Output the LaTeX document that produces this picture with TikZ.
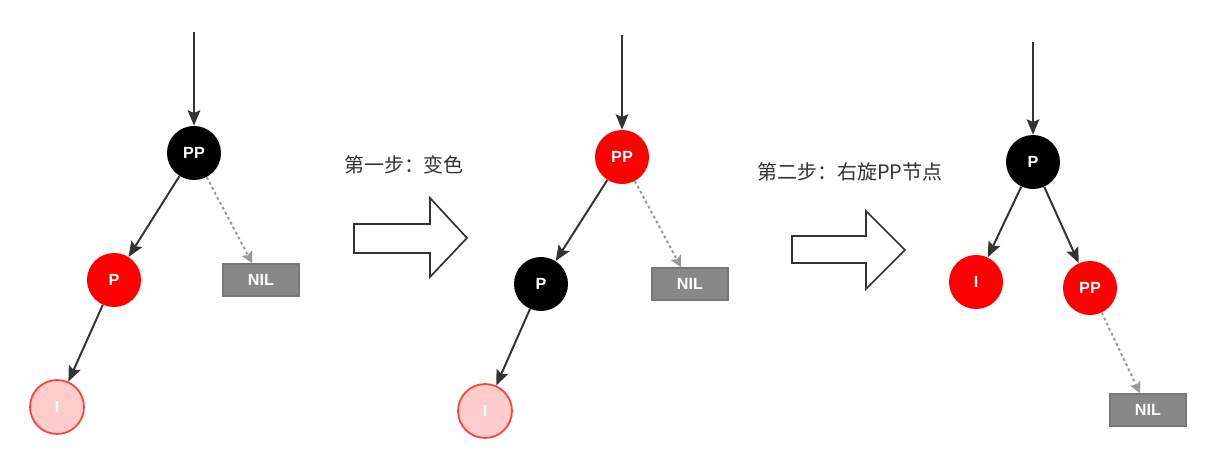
\documentclass[tikz,border=0pt]{standalone}
\usepackage{fontspec}
\setsansfont{Liberation Sans}
\newfontfamily\cjk{Noto Sans CJK SC}
\usepackage{tikz}
\usetikzlibrary{arrows.meta, positioning}
\definecolor{rbred}{HTML}{FF0000}
\definecolor{rbpink}{HTML}{FFCCCC}
\definecolor{rbpinkline}{HTML}{FF3B3B}
\definecolor{nilgray}{HTML}{888888}
\definecolor{nilline}{HTML}{777777}
\definecolor{edgegray}{HTML}{333333}
\definecolor{dashgray}{HTML}{999999}

\begin{document}
\begin{tikzpicture}[x=0.025cm, y=-0.025cm,
  every node/.style={font=\sffamily\bfseries\fontsize{11.5}{13}\selectfont, text=white},
  rbnode/.style={circle, minimum size=1.35cm, inner sep=0pt},
  blacknode/.style={rbnode, fill=black},
  rednode/.style={rbnode, fill=rbred},
  newnode/.style={rbnode, fill=rbpink, draw=rbpinkline, line width=1.2pt},
  nilbox/.style={draw=nilline, fill=nilgray, line width=1pt, minimum width=1.9cm, minimum height=0.8cm, inner sep=0pt},
  edge/.style={-{Stealth[length=11pt, width=9pt, inset=2pt]}, draw=edgegray, line width=1.4pt},
  niledge/.style={-{Stealth[length=8pt, width=8pt, inset=1.5pt]}, draw=dashgray, line width=1.4pt, dash pattern=on 2pt off 2pt},
  stepnote/.style={font=\cjk\fontsize{14.2}{16}\selectfont, text=edgegray},
  blockarrow/.style={draw=edgegray, line width=1.2pt, fill=white}
]
  \useasboundingbox (0,0) rectangle (1218,468);

  % tree before
  \coordinate (top1) at (194,32);
  \node[blacknode] (pp1) at (194,153) {PP};
  \node[rednode] (p1) at (114,280) {P};
  \node[newnode] (i1) at (57,407) {I};
  \node[nilbox] (nil1) at (261,280) {NIL};
  \draw[edge] (top1) -- (pp1);
  \draw[edge] (pp1) -- (p1);
  \draw[edge] (p1) -- (i1);
  \draw[niledge] (pp1) -- (nil1);

  % step one
  \node[stepnote] (note1) at (404,165) {第一步：变色};
  \draw[blockarrow] (354,224) -- (430,224) -- (430,198) -- (467,238)
    -- (430,277) -- (430,253) -- (354,253) -- cycle;

  % tree after recolouring
  \coordinate (top2) at (622,35);
  \node[rednode] (pp2) at (622,157) {PP};
  \node[blacknode] (p2) at (541,284) {P};
  \node[newnode] (i2) at (485,411) {I};
  \node[nilbox] (nil2) at (690,284) {NIL};
  \draw[edge] (top2) -- (pp2);
  \draw[edge] (pp2) -- (p2);
  \draw[edge] (p2) -- (i2);
  \draw[niledge] (pp2) -- (nil2);

  % step two
  \node[stepnote] (note2) at (850,172) {第二步：右旋PP节点};
  \draw[blockarrow] (792,236) -- (866,236) -- (866,211) -- (905,250)
    -- (866,289) -- (866,263) -- (792,263) -- cycle;

  % tree after rotation
  \coordinate (top3) at (1033,42);
  \node[blacknode] (p3) at (1033,162) {P};
  \node[rednode] (i3) at (976,282) {I};
  \node[rednode] (pp3) at (1090,288) {PP};
  \node[nilbox] (nil3) at (1148,410) {NIL};
  \draw[edge] (top3) -- (p3);
  \draw[edge] (p3) -- (i3);
  \draw[edge] (p3) -- (pp3);
  \draw[niledge] (pp3) -- (nil3);
\end{tikzpicture}
\end{document}
